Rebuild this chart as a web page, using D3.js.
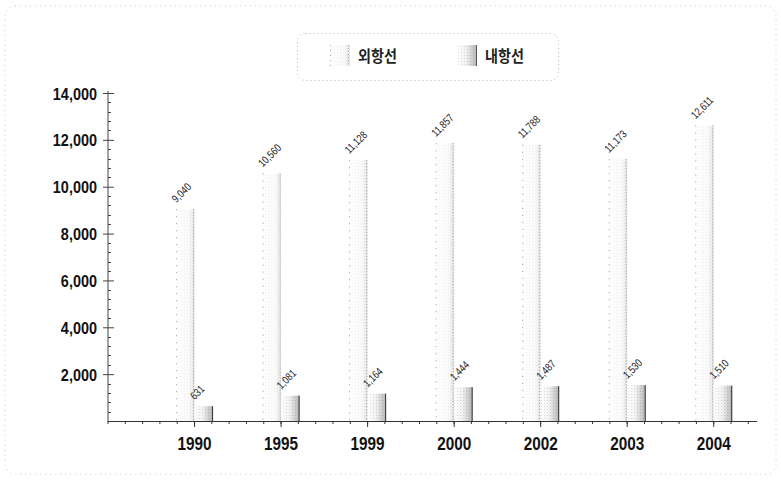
<!DOCTYPE html>
<html>
<head>
<meta charset="utf-8">
<script src="https://cdn.jsdelivr.net/npm/d3@7"></script>
<style>
  html, body { margin: 0; padding: 0; background: #fff; }
  svg { display: block; }
  .narrow { font-family: 'Liberation Sans', Arial, sans-serif; }
</style>
</head>
<body>
<svg id="chart" width="781" height="480"></svg>
<script>
// ---- data ----
const years = ["1990", "1995", "1999", "2000", "2002", "2003", "2004"];
const seriesNames = ["외항선", "내항선"];
const oceanGoing = [9040, 10560, 11128, 11857, 11788, 11173, 12611];
const coastal = [631, 1081, 1164, 1444, 1487, 1530, 1510];
const yTickValues = [2000, 4000, 6000, 8000, 10000, 12000, 14000];

const seriesValues = [oceanGoing, coastal];

const svg = d3.select("#chart");
const defs = svg.append("defs");

// gradients imitating the stippled fills
const g1 = defs.append("linearGradient").attr("id", "gOcean").attr("x1", "0").attr("x2", "1").attr("y1", "0").attr("y2", "0");
g1.append("stop").attr("offset", "0%").attr("stop-color", "#ffffff");
g1.append("stop").attr("offset", "70%").attr("stop-color", "#fafafa");
g1.append("stop").attr("offset", "100%").attr("stop-color", "#e4e4e4");
const g2 = defs.append("linearGradient").attr("id", "gCoast").attr("x1", "0").attr("x2", "1").attr("y1", "0").attr("y2", "0");
g2.append("stop").attr("offset", "0%").attr("stop-color", "#ffffff");
g2.append("stop").attr("offset", "45%").attr("stop-color", "#f2f2f2");
g2.append("stop").attr("offset", "100%").attr("stop-color", "#b4b4b4");

// dotted stipple pattern overlay
const pat = defs.append("pattern").attr("id", "dots").attr("width", 3).attr("height", 3).attr("patternUnits", "userSpaceOnUse");
pat.append("rect").attr("x", 1).attr("y", 1).attr("width", 1).attr("height", 1).attr("fill", "#000").attr("opacity", 0.12);

// outer frame
svg.append("rect")
  .attr("x", 5).attr("y", 6).attr("width", 771).attr("height", 468)
  .attr("rx", 10)
  .attr("fill", "none").attr("stroke", "#c8c8c8").attr("stroke-width", 1)
  .attr("stroke-dasharray", "1 4");

// ---- scales ----
const axisLeftX = 108, axisRightX = 757;
const y0 = 421, yTop = 93;
const x = d3.scaleBand().domain(years).range([151.3, axisRightX]).padding(0);
const groupW = 37;
const xs = d3.scaleBand().domain(seriesNames).range([0, groupW]).padding(0);
const y = d3.scaleLinear().domain([0, 14000]).range([y0, yTop]);

// ---- bars ----
const fills = ["url(#gOcean)", "url(#gCoast)"];
seriesNames.forEach((s, si) => {
  const g = svg.append("g").attr("class", "series");
  const data = years.map((yr, i) => ({ yr, v: seriesValues[si][i] }));
  const bx = d => x(d.yr) + x.bandwidth() / 2 - groupW / 2 + xs(s);
  g.selectAll("rect.bar").data(data).join("rect")
    .attr("class", "bar")
    .attr("x", bx)
    .attr("y", d => y(d.v))
    .attr("width", xs.bandwidth())
    .attr("height", d => y0 - y(d.v))
    .attr("fill", fills[si]);
  g.selectAll("rect.dot").data(data).join("rect")
    .attr("class", "dot")
    .attr("x", bx)
    .attr("y", d => y(d.v))
    .attr("width", xs.bandwidth())
    .attr("height", d => y0 - y(d.v))
    .attr("fill", "url(#dots)")
    .attr("opacity", si === 0 ? 0.4 : 1);
  if (si === 0) {
    g.selectAll("line.le").data(data).join("line")
      .attr("x1", d => bx(d) + 0.5).attr("x2", d => bx(d) + 0.5)
      .attr("y1", d => y(d.v)).attr("y2", y0)
      .attr("stroke", "#9a9a9a").attr("stroke-dasharray", "1 6");
    g.selectAll("line.re").data(data).join("line")
      .attr("x1", d => bx(d) + xs.bandwidth() - 1).attr("x2", d => bx(d) + xs.bandwidth() - 1)
      .attr("y1", d => y(d.v)).attr("y2", y0)
      .attr("stroke", "#999").attr("stroke-dasharray", "1 2");
  } else {
    g.selectAll("line.re").data(data).join("line")
      .attr("x1", d => bx(d) + xs.bandwidth() - 0.5).attr("x2", d => bx(d) + xs.bandwidth() - 0.5)
      .attr("y1", d => y(d.v)).attr("y2", y0)
      .attr("stroke", "#333").attr("stroke-width", 1);
  }
  // value labels
  g.selectAll("text.val").data(data).join("text")
    .attr("class", "val narrow")
    .attr("transform", d => `translate(${bx(d) + xs.bandwidth() / 2 - 9},${y(d.v) - 6}) rotate(-45) scale(0.8,1)`)
    .attr("font-size", 11)
    .attr("fill", "#222")
    .text(d => d3.format(",")(d.v));
});

// ---- y axis ----
const yAxisG = svg.append("g").attr("transform", `translate(${axisLeftX},0)`);
yAxisG.append("line").attr("x1", 0).attr("x2", 0).attr("y1", yTop - 2).attr("y2", y0)
  .attr("stroke", "#444");
const minorY = d3.range(400, 14000, 400).filter(v => v % 2000 !== 0);
yAxisG.selectAll("line.minor").data(minorY).join("line")
  .attr("x1", 0).attr("x2", 3).attr("y1", d => Math.round(y(d)) + 0.5).attr("y2", d => Math.round(y(d)) + 0.5)
  .attr("stroke", "#444");
const yAxis = d3.axisLeft(y).tickValues(yTickValues).tickFormat(d3.format(",")).tickSize(5).tickPadding(6);
const yg = yAxisG.append("g").call(yAxis);
yg.select(".domain").remove();
yg.selectAll(".tick line").attr("x2", 6).attr("x1", -5).attr("stroke", "#444");
yg.selectAll(".tick text")
  .attr("class", "narrow")
  .attr("font-size", 17).attr("font-weight", "bold").attr("fill", "#111")
  .attr("x", -11 / 0.85).attr("dy", "0.36em")
  .attr("transform", "scale(0.85,1)");

// ---- x axis ----
const xAxisG = svg.append("g");
xAxisG.append("line").attr("x1", axisLeftX).attr("x2", axisRightX).attr("y1", y0 + 0.5).attr("y2", y0 + 0.5)
  .attr("stroke", "#333");
const minorStep = x.step() / 5;
const minorX = d3.range(axisLeftX, axisRightX + 1, minorStep);
xAxisG.selectAll("line.minor").data(minorX).join("line")
  .attr("x1", d => d).attr("x2", d => d).attr("y1", y0).attr("y2", y0 + 3)
  .attr("stroke", "#333");
const xAxis = d3.axisBottom(x).tickSize(6).tickPadding(10);
const xg = xAxisG.append("g").attr("transform", `translate(0,${y0})`).call(xAxis);
xg.select(".domain").remove();
xg.selectAll(".tick line").attr("stroke", "#333");
xg.selectAll(".tick text")
  .attr("class", "narrow")
  .attr("font-size", 18).attr("font-weight", "bold").attr("fill", "#111")
  .attr("transform", "scale(0.85,1)");

// ---- legend ----
const leg = svg.append("g");
leg.append("rect").attr("x", 297.5).attr("y", 33.5).attr("width", 261).attr("height", 47).attr("rx", 8)
  .attr("fill", "none").attr("stroke", "#bbb").attr("stroke-dasharray", "1 3");
const legX = [330, 457];
seriesNames.forEach((s, si) => {
  const lg = leg.append("g").attr("transform", `translate(${legX[si]},45)`);
  lg.append("rect").attr("width", 20).attr("height", 21).attr("fill", fills[si]);
  lg.append("rect").attr("width", 20).attr("height", 21).attr("fill", "url(#dots)").attr("opacity", si === 0 ? 0.4 : 1);
  if (si === 1) {
    lg.append("line").attr("x1", 19.5).attr("x2", 19.5).attr("y1", 0).attr("y2", 21).attr("stroke", "#555");
  } else {
    lg.append("line").attr("x1", 0.5).attr("x2", 0.5).attr("y1", 0).attr("y2", 21).attr("stroke", "#aaa").attr("stroke-dasharray", "1 4");
    lg.append("line").attr("x1", 18.5).attr("x2", 18.5).attr("y1", 0).attr("y2", 21).attr("stroke", "#aaa").attr("stroke-dasharray", "1 2");
  }
  lg.append("text")
    .attr("transform", "translate(28,17) scale(0.88,1)")
    .attr("font-family", "'Noto Sans CJK KR', sans-serif")
    .attr("font-size", 16).attr("font-weight", "bold").attr("fill", "#222")
    .text(s);
});
</script>
</body>
</html>
